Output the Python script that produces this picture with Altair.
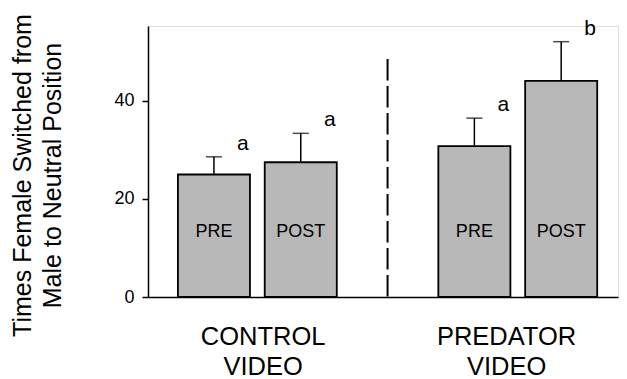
import altair as alt
import pandas as pd

# ---- data ----
slots = ["CPRE", "CPOST", "GAP", "PPRE", "PPOST"]
bar_slots = ["CPRE", "CPOST", "PPRE", "PPOST"]
phase = ["PRE", "POST", "PRE", "POST"]
means = [25.0, 27.5, 30.8, 44.1]
errors = [3.6, 5.9, 5.7, 8.0]
letters = ["a", "a", "a", "b"]
groups = ["CONTROL\nVIDEO", "PREDATOR\nVIDEO"]
y_ticks = [0, 20, 40]

FONT = "Liberation Sans"

df = pd.DataFrame({
    "slot": bar_slots,
    "phase": phase,
    "mean": means,
    "err": errors,
    "letter": letters,
})

xscale = alt.Scale(domain=slots, paddingInner=0.17, paddingOuter=0.292,
                   align=0.59, round=False)
yscale = alt.Scale(domain=[0, 55.3], nice=False, zero=True)

x_enc = alt.X("slot:N", scale=xscale,
              axis=alt.Axis(labels=False, ticks=False, title=None,
                            domainColor="black", domainWidth=1.5))
y_enc = alt.Y("mean:Q", scale=yscale,
              axis=alt.Axis(values=y_ticks, grid=False, domainColor="black",
                            domainWidth=1.5, tickColor="black", tickWidth=1.5,
                            tickSize=6, labelFont=FONT, labelFontSize=18,
                            labelColor="black", labelPadding=8,
                            title=["Times Female Switched from", "Male to Neutral Position"],
                            titleFont=FONT, titleFontSize=25, titleFontWeight="normal",
                            titleColor="black", titleAngle=270, titleAlign="center",
                            titleBaseline="alphabetic", titleLineHeight=30,
                            titleX=-118, titleY=149))

base = alt.Chart(df).transform_calculate(top="datum.mean + datum.err")

bars = base.mark_bar(fill="#b8b8b8", stroke="black", strokeWidth=1.8).encode(
    x=x_enc, y=y_enc)

err_line = base.mark_rule(color="black", strokeWidth=1.5).encode(
    x=alt.X("slot:N", scale=xscale), y=alt.Y("mean:Q", scale=yscale), y2="top:Q")

err_cap = base.mark_tick(color="black", thickness=1.5, size=16, orient="horizontal").encode(
    x=alt.X("slot:N", scale=xscale), y=alt.Y("top:Q", scale=yscale))

sig = base.mark_text(font=FONT, fontSize=21, color="black", dx=29, dy=-7,
                     baseline="alphabetic", align="center").encode(
    x=alt.X("slot:N", scale=xscale), y=alt.Y("top:Q", scale=yscale), text="letter:N")

phase_lbl = base.mark_text(font=FONT, fontSize=18, color="black",
                           baseline="alphabetic", align="center").encode(
    x=alt.X("slot:N", scale=xscale), y=alt.value(211.3), text="phase:N")

div_df = pd.DataFrame({"slot": ["GAP"]})
divider = alt.Chart(div_df).mark_rule(color="black", strokeWidth=2,
                                      strokeDash=[21.5, 5.5]).encode(
    x=alt.X("slot:N", scale=xscale), y=alt.value(33), y2=alt.value(271))

grp_df = pd.DataFrame({"group": groups, "slot": ["GAP", "GAP"]})
grp_left = alt.Chart(grp_df).transform_filter(alt.datum.group == groups[0]).mark_text(
    font=FONT, fontSize=25.5, color="black", lineBreak="\n", lineHeight=30.5,
    baseline="alphabetic", align="center", dx=-124.5).encode(
    x=alt.X("slot:N", scale=xscale), y=alt.value(318.5), text="group:N")
grp_right = alt.Chart(grp_df).transform_filter(alt.datum.group == groups[1]).mark_text(
    font=FONT, fontSize=25.5, color="black", lineBreak="\n", lineHeight=30.5,
    baseline="alphabetic", align="center", dx=119).encode(
    x=alt.X("slot:N", scale=xscale), y=alt.value(318.5), text="group:N")

chart = alt.layer(bars, err_line, err_cap, sig, phase_lbl, divider, grp_left, grp_right).properties(
    width=470, height=271,
    autosize=alt.AutoSizeParams(type="none"),
    padding={"left": 140, "top": 18, "right": 1, "bottom": 82},
).configure_view(stroke=None).configure(background="white")

chart.save("out.html", embed_options={"renderer": "svg", "actions": False})
